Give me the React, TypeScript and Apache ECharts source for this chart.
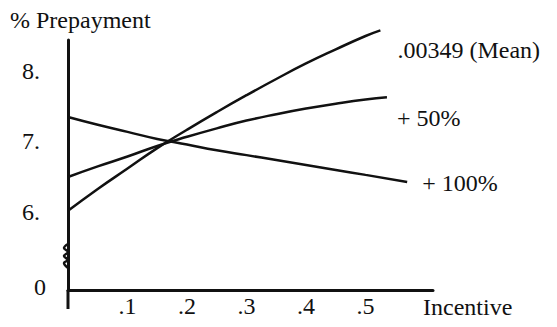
import React, { useEffect, useRef } from "react";
import * as echarts from "echarts";

const xMean = [0, 0.05, 0.1, 0.15, 0.2, 0.25, 0.3, 0.35, 0.4, 0.45, 0.5, 0.525];
const yMean = [6.01, 6.32, 6.61, 6.9, 7.16, 7.41, 7.65, 7.88, 8.1, 8.3, 8.49, 8.57];
const x50 = [0, 0.05, 0.1, 0.15, 0.2, 0.25, 0.3, 0.35, 0.4, 0.45, 0.5, 0.536];
const y50 = [6.49, 6.64, 6.78, 6.93, 7.06, 7.18, 7.29, 7.38, 7.46, 7.53, 7.59, 7.62];
const x100 = [0, 0.05, 0.1, 0.15, 0.2, 0.25, 0.3, 0.35, 0.4, 0.45, 0.5, 0.57];
const y100 = [7.34, 7.23, 7.13, 7.03, 6.95, 6.87, 6.8, 6.73, 6.66, 6.59, 6.52, 6.42];
const seriesNames = [".00349 (Mean)", "+ 50%", "+ 100%"];
const xTicks = [0.1, 0.2, 0.3, 0.4, 0.5];
const yTicks = [4.887, 6, 7, 8];
const yTickLabels = ["0", "6.", "7.", "8."];

const FONT = "Times New Roman, Liberation Serif, serif";
const FS = 24;
const INK = "#111";

export default function App() {
  const ref = useRef<HTMLDivElement>(null);
  useEffect(() => {
    if (!ref.current) return;
    const chart = echarts.init(ref.current, undefined, { renderer: "svg" });
    const zip = (xs: number[], ys: number[]) => xs.map((x, i) => [x, ys[i]]);
    const mk = (name: string, data: number[][], offset: number[]) => ({
      type: "line",
      name,
      data,
      smooth: true,
      showSymbol: false,
      symbol: "none",
      clip: false,
      lineStyle: { color: INK, width: 2.5 },
      endLabel: {
        show: true,
        formatter: name,
        distance: 0,
        offset,
        color: INK,
        fontFamily: FONT,
        fontSize: FS,
        align: "left",
        verticalAlign: "middle",
      },
    });
    chart.setOption({
      animation: false,
      backgroundColor: "#fff",
      textStyle: { fontFamily: FONT },
      title: {
        text: "% Prepayment",
        left: 2,
        top: 0,
        padding: [0, 0, 0, 0],
        textStyle: { color: INK, fontFamily: FONT, fontSize: FS, fontWeight: "normal" },
      },
      grid: { left: 60, top: 32, width: 365, height: 250, containLabel: false },
      xAxis: {
        type: "value",
        min: 0,
        max: 0.6134,
        name: "Incentive",
        nameLocation: "end",
        nameGap: -10,
        nameTextStyle: {
          color: INK,
          fontFamily: FONT,
          fontSize: FS,
          align: "left",
          verticalAlign: "top",
          padding: [5, 0, 0, 0],
        },
        axisLine: { show: true, lineStyle: { color: INK, width: 3 } },
        axisTick: { show: false },
        splitLine: { show: false },
        axisLabel: {
          customValues: xTicks,
          formatter: (v: number) => "." + Math.round(v * 10),
          color: INK,
          fontFamily: FONT,
          fontSize: FS,
          margin: 4,
        },
      },
      yAxis: {
        type: "value",
        min: 4.887,
        max: 8.433,
        axisLine: { show: true, lineStyle: { color: INK, width: 3 } },
        axisTick: { show: false },
        splitLine: { show: false },
        axisLabel: {
          customValues: yTicks,
          formatter: (v: number) => {
            const i = yTicks.findIndex((t) => Math.abs(t - v) < 1e-6);
            const s = i >= 0 ? yTickLabels[i] : "";
            return s === "0" ? "{z|0}" : "{d|" + s + "}";
          },
          color: INK,
          fontFamily: FONT,
          fontSize: FS,
          margin: 22,
          rich: {
            z: { fontFamily: FONT, fontSize: FS, color: INK, padding: [0, 0, 6, 0] },
            d: { fontFamily: FONT, fontSize: FS, color: INK, padding: [0, 6, 0, 0] },
          },
        },
      },
      graphic: [
        { type: "line", shape: { x1: 60, y1: 282, x2: 60, y2: 301 }, style: { stroke: INK, lineWidth: 3 } },
        { type: "rect", shape: { x: 57, y: 238, width: 6, height: 21 }, style: { fill: "#fff" } },
        {
          type: "polyline",
          shape: {
            points: [[60, 236], [56, 240], [60, 244], [56, 248], [60, 252], [56, 255], [60, 260]],
            smooth: 0.4,
          },
          style: { stroke: INK, lineWidth: 2.5, fill: "none" },
        },
      ],
      series: [
        mk(seriesNames[0], zip(xMean, yMean), [17, 20]),
        mk(seriesNames[1], zip(x50, y50), [10, 21]),
        mk(seriesNames[2], zip(x100, y100), [15, 1]),
      ],
    });
    return () => chart.dispose();
  }, []);
  return <div ref={ref} style={{ width: 541, height: 311 }} />;
}
